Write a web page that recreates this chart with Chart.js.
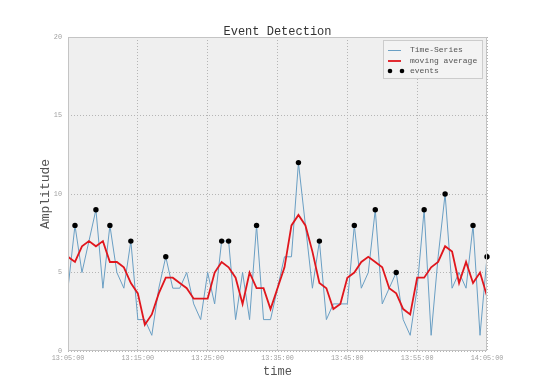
<!DOCTYPE html>
<html>
<head>
<meta charset="utf-8">
<script src="https://cdn.jsdelivr.net/npm/chart.js@4.4.1/dist/chart.umd.min.js"></script>
<style>
  html, body { margin: 0; padding: 0; background: #fff; }
  #wrap { width: 540px; height: 391px; }
</style>
</head>
<body>
<div id="wrap"><canvas id="eventChart" width="540" height="391"></canvas></div>
<script>
// one sample per minute, starting 13:05:00
const tickLabels = ["13:05:00", "13:15:00", "13:25:00", "13:35:00", "13:45:00", "13:55:00", "14:05:00"];
const series = [4, 8, 5, 7, 9, 4, 8, 5, 4, 7, 2, 2, 1, 4, 6, 4, 4, 5, 3, 2,
                5, 3, 7, 7, 2, 5, 2, 8, 2, 2, 4, 6, 6, 12, 8, 4, 7, 2, 3, 3,
                3, 8, 4, 5, 9, 3, 4, 5, 2, 1, 4, 9, 1, 6, 10, 4, 5, 4, 8, 1, 6];
const movingAvg = [6, 5.67, 6.67, 7, 6.67, 7, 5.67, 5.67, 5.33, 4.33, 3.67, 1.67, 2.33, 3.67, 4.67, 4.67, 4.33, 4, 3.33, 3.33,
                   3.33, 5, 5.67, 5.33, 4.67, 3, 5, 4, 4, 2.67, 4, 5.33, 8, 8.67, 8, 6.33, 4.33, 4, 2.67, 3,
                   4.67, 5, 5.67, 6, 5.67, 5.33, 4, 3.67, 2.67, 2.33, 4.67, 4.67, 5.33, 5.67, 6.67, 6.33, 4.33, 5.67, 4.33, 5, 3.5];
const eventMinutes = [1, 4, 6, 9, 14, 22, 23, 27, 33, 36, 41, 44, 47, 51, 54, 58, 60];
const eventValues = [8, 9, 8, 7, 6, 7, 7, 8, 12, 7, 8, 9, 5, 9, 10, 8, 6];

const MONO = "'Liberation Mono', 'DejaVu Sans Mono', monospace";
const BLUE = '#6a9fc4';
const RED = '#e0161d';

// plot background, frame, title and legend like the matplotlib figure
const decorPlugin = {
    id: 'decor',
    beforeDraw(chart) {
        const a = chart.chartArea, c = chart.ctx;
        c.save();
        c.fillStyle = '#efefef';
        c.fillRect(a.left, a.top, a.right - a.left, a.bottom - a.top);
        c.restore();
    },
    afterDraw(chart) {
        const a = chart.chartArea, c = chart.ctx;
        c.save();
        c.strokeStyle = '#c4c4c4';
        c.lineWidth = 1;
        c.strokeRect(a.left + 0.5, a.top + 0.5, a.right - a.left - 1, a.bottom - a.top - 1);

        c.fillStyle = '#333';
        c.font = '12px ' + MONO;
        c.textAlign = 'center';
        c.textBaseline = 'middle';
        c.fillText('Event Detection', (a.left + a.right) / 2, 31.5);

        // legend
        const lx = 383, ly = 40, lw = 99, lh = 38;
        c.fillStyle = 'rgba(243,243,243,0.9)';
        c.fillRect(lx, ly, lw, lh);
        c.strokeStyle = '#cccccc';
        c.strokeRect(lx + 0.5, ly + 0.5, lw, lh);
        c.font = '8px ' + MONO;
        c.textAlign = 'left';
        const rows = [50, 61, 71];
        c.strokeStyle = BLUE; c.lineWidth = 1;
        c.beginPath(); c.moveTo(388, rows[0] + 0.5); c.lineTo(401, rows[0] + 0.5); c.stroke();
        c.strokeStyle = RED; c.lineWidth = 1.8;
        c.beginPath(); c.moveTo(388, rows[1]); c.lineTo(401, rows[1]); c.stroke();
        c.fillStyle = '#000';
        [390, 402].forEach(x => { c.beginPath(); c.arc(x, rows[2], 2.3, 0, Math.PI * 2); c.fill(); });
        c.fillStyle = '#555';
        c.fillText('Time-Series', 410, rows[0]);
        c.fillText('moving average', 410, rows[1]);
        c.fillText('events', 410, rows[2]);
        c.restore();
    }
};

new Chart(document.getElementById('eventChart'), {
    type: 'line',
    data: {
        datasets: [{
            label: 'Time-Series',
            data: series.map((v, i) => ({ x: i, y: v })),
            borderColor: BLUE,
            borderWidth: 1,
            pointRadius: 0,
            order: 3
        }, {
            label: 'moving average',
            data: movingAvg.map((v, i) => ({ x: i, y: v })),
            borderColor: RED,
            borderWidth: 1.8,
            pointRadius: 0,
            order: 2
        }, {
            label: 'events',
            data: eventMinutes.map((m, i) => ({ x: m, y: eventValues[i] })),
            showLine: false,
            clip: false,
            pointRadius: 2.7,
            pointBackgroundColor: '#000',
            pointBorderColor: '#000',
            pointBorderWidth: 0,
            order: 1
        }]
    },
    options: {
        responsive: false,
        animation: false,
        layout: { padding: { top: 37, left: 34, right: 53, bottom: 10 } },
        plugins: { legend: { display: false }, tooltip: { enabled: false } },
        scales: {
            x: {
                type: 'linear', min: 0, max: 60,
                afterFit(s) { s.height = 30; },
                border: { display: false, dash: [1, 2] },
                grid: { color: '#b5b5b5', lineWidth: 1, drawTicks: false },
                ticks: {
                    stepSize: 10, padding: 3, color: '#a0a0a0',
                    font: { family: MONO, size: 6.8 },
                    maxRotation: 0,
                    callback: v => tickLabels[v / 10]
                },
                title: { display: true, text: 'time', color: '#555', font: { family: MONO, size: 12 }, padding: { top: 2, bottom: 2 } }
            },
            y: {
                min: 0, max: 20,
                afterFit(s) { s.width = 34; },
                border: { display: false, dash: [1, 2] },
                grid: { color: '#b5b5b5', lineWidth: 1, drawTicks: false },
                ticks: { stepSize: 5, padding: 6, color: '#a0a0a0', font: { family: MONO, size: 6.8 } },
                title: { display: true, text: 'Amplitude', color: '#555', font: { family: MONO, size: 13 } }
            }
        }
    },
    plugins: [decorPlugin]
});
</script>
</body>
</html>
